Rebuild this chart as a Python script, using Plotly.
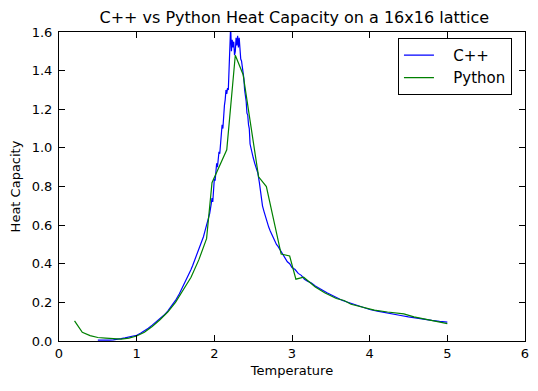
import plotly.graph_objects as go

cpp_T = [0.50, 0.55, 0.60, 0.65, 0.70, 0.75, 0.80, 0.85, 0.90, 0.95, 1.00, 1.05, 1.10, 1.15, 1.20, 1.25,
         1.30, 1.35, 1.40, 1.45, 1.50, 1.55, 1.60, 1.63, 1.66, 1.70, 1.72, 1.75, 1.78, 1.80, 1.82, 1.84,
         1.86, 1.88, 1.90, 1.92, 1.94, 1.96, 1.97, 1.98, 1.99, 2.00, 2.01, 2.02, 2.03, 2.04, 2.05, 2.06,
         2.07, 2.08, 2.09, 2.10, 2.11, 2.12, 2.13, 2.14, 2.15, 2.16, 2.17, 2.18, 2.19, 2.20, 2.21, 2.22,
         2.23, 2.24, 2.25, 2.26, 2.27, 2.28, 2.29, 2.30, 2.31, 2.32, 2.33, 2.34, 2.35, 2.36, 2.37, 2.38,
         2.39, 2.40, 2.41, 2.42, 2.43, 2.44, 2.45, 2.46, 2.47, 2.48, 2.49, 2.50, 2.52, 2.54, 2.56, 2.58,
         2.60, 2.61, 2.62, 2.64, 2.66, 2.68, 2.70, 2.72, 2.74, 2.76, 2.78, 2.80, 2.82, 2.85, 2.88, 2.91,
         2.94, 2.97, 3.00, 3.04, 3.08, 3.12, 3.16, 3.20, 3.25, 3.30, 3.35, 3.40, 3.45, 3.50, 3.55, 3.60,
         3.65, 3.70, 3.80, 3.90, 4.00, 4.10, 4.20, 4.30, 4.40, 4.50, 4.60, 4.70, 4.80, 4.90, 5.00]
cpp_C = [0.005, 0.004, 0.004, 0.005, 0.006, 0.008, 0.012, 0.016, 0.021, 0.025, 0.030, 0.040, 0.052, 0.066, 0.082, 0.098,
         0.115, 0.133, 0.155, 0.180, 0.210, 0.245, 0.285, 0.31, 0.335, 0.37, 0.39, 0.42, 0.46, 0.48, 0.50, 0.51,
         0.54, 0.57, 0.60, 0.63, 0.66, 0.71, 0.74, 0.72, 0.80, 0.84, 0.83, 0.88, 0.92, 0.90, 0.95, 0.98,
         0.97, 1.02, 1.08, 1.12, 1.10, 1.20, 1.22, 1.25, 1.30, 1.28, 1.31, 1.30, 1.42, 1.48, 1.63, 1.50,
         1.56, 1.52, 1.55, 1.48, 1.50, 1.57, 1.53, 1.58, 1.52, 1.57, 1.50, 1.46, 1.45, 1.42, 1.38, 1.36,
         1.30, 1.27, 1.24, 1.18, 1.17, 1.12, 1.10, 1.02, 1.00, 0.98, 0.97, 0.95, 0.92, 0.89, 0.87, 0.82,
         0.76, 0.72, 0.70, 0.67, 0.64, 0.62, 0.59, 0.57, 0.55, 0.53, 0.52, 0.50, 0.49, 0.47, 0.45, 0.43,
         0.41, 0.40, 0.38, 0.37, 0.35, 0.34, 0.32, 0.31, 0.30, 0.285, 0.275, 0.262, 0.25, 0.24, 0.228, 0.218,
         0.21, 0.203, 0.19, 0.175, 0.163, 0.155, 0.146, 0.139, 0.132, 0.125, 0.118, 0.112, 0.107, 0.102, 0.098]

py_T = [0.2, 0.3, 0.4, 0.5, 0.6, 0.7, 0.8, 0.9, 1.0, 1.1, 1.2, 1.3, 1.4, 1.5, 1.6, 1.7, 1.8, 1.9,
        1.97, 2.16, 2.27, 2.37, 2.57, 2.67, 2.86, 2.97, 3.05, 3.15, 3.30, 3.42, 3.57, 3.67, 3.76,
        3.90, 4.06, 4.23, 4.44, 4.57, 4.70, 4.85, 5.0]
py_C = [0.104, 0.045, 0.028, 0.018, 0.015, 0.012, 0.010, 0.015, 0.026, 0.045, 0.075, 0.110, 0.150,
        0.200, 0.265, 0.330, 0.420, 0.530, 0.82, 0.99, 1.48, 1.38, 0.85, 0.80, 0.45, 0.44, 0.32, 0.33,
        0.28, 0.25, 0.22, 0.21, 0.19, 0.175, 0.16, 0.15, 0.14, 0.125, 0.115, 0.105, 0.09]

series_names = ["C++", "Python"]
x_ticks = [0, 1, 2, 3, 4, 5, 6]
y_ticks = [0.0, 0.2, 0.4, 0.6, 0.8, 1.0, 1.2, 1.4, 1.6]

font = "DejaVu Sans"
pad = "\u00a0\u00a0\u00a0"

fig = go.Figure()
fig.add_trace(go.Scatter(x=cpp_T, y=cpp_C, mode="lines", name=pad + series_names[0],
                         line=dict(color="#0000ff", width=1.2)))
fig.add_trace(go.Scatter(x=py_T, y=py_C, mode="lines", name=pad + series_names[1],
                         line=dict(color="#008000", width=1.2)))

axis_common = dict(showgrid=False, zeroline=False, showline=True, linecolor="black", linewidth=1,
                   mirror="allticks", ticks="inside", ticklen=6, tickcolor="black",
                   tickfont=dict(family=font, size=13, color="black"))

fig.update_layout(
    width=538, height=391,
    margin=dict(l=59, r=9, t=32, b=50),
    paper_bgcolor="white", plot_bgcolor="white",
    font=dict(family=font, color="black"),
    title=dict(text="C++ vs Python Heat Capacity on a 16x16 lattice", x=0.547, xanchor="center",
               y=0.955, yanchor="middle", font=dict(family=font, size=16, color="black")),
    xaxis=dict(range=[0, 6], tickvals=x_ticks, ticktext=[str(v) for v in x_ticks],
               title=dict(text="Temperature", font=dict(family=font, size=13), standoff=6), **axis_common),
    yaxis=dict(range=[0, 1.6], tickvals=y_ticks, ticktext=["%.1f" % v for v in y_ticks],
               ticklabelstandoff=3,
               title=dict(text="Heat Capacity", font=dict(family=font, size=13), standoff=8), **axis_common),
    legend=dict(x=0.972, xanchor="right", y=0.981, yanchor="top", bgcolor="white",
                bordercolor="black", borderwidth=1, font=dict(family=font, size=15, color="black")),
    showlegend=True,
)

fig.write_html("out.html")
